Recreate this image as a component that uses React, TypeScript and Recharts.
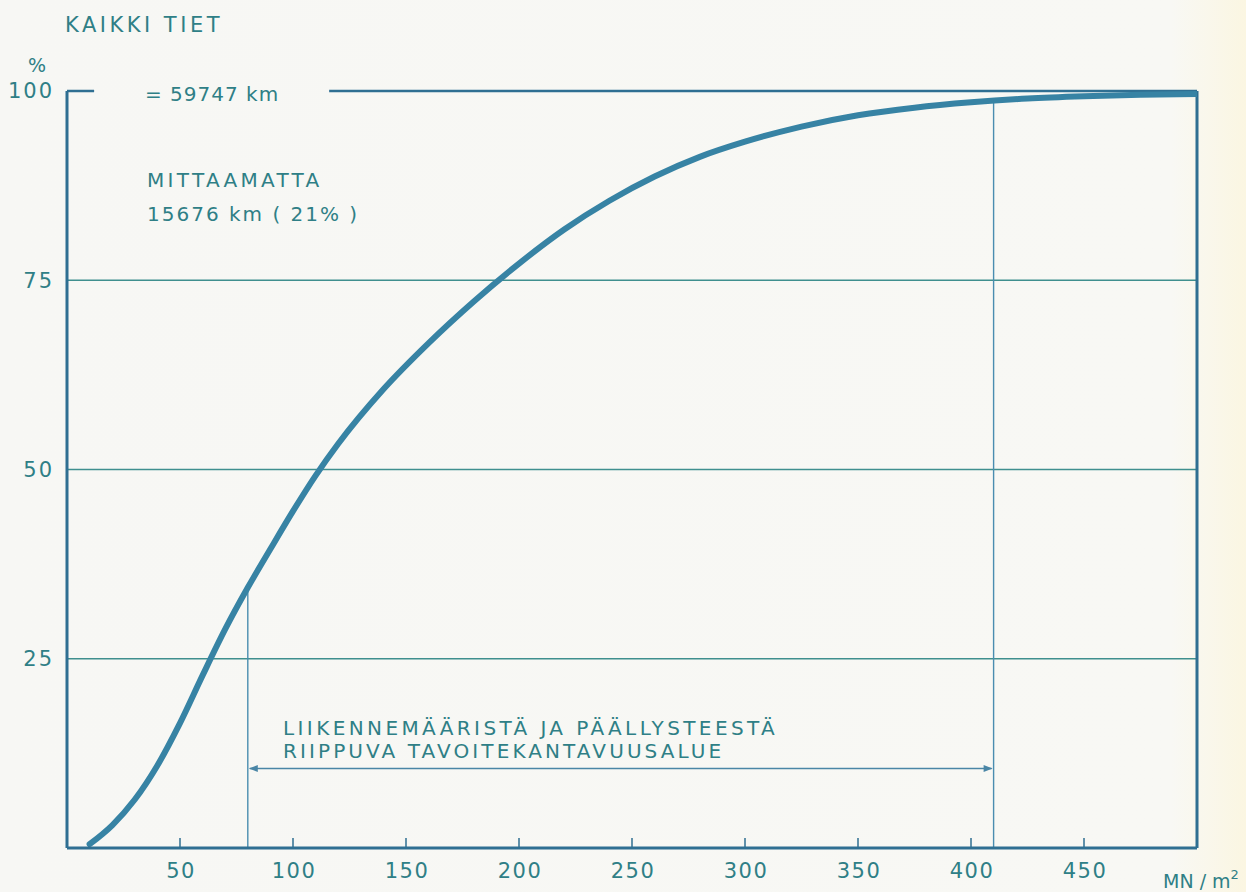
import React from "react";
import { ComposedChart, Line, XAxis, YAxis, ReferenceLine } from "recharts";

// kantavuus MN/m2 -> osuus teistä (%)
const strength = [10, 20, 30, 40, 50, 60, 70, 80, 90, 100, 110, 120, 140, 160, 180, 200, 220, 240, 260, 280, 300, 325, 350, 375, 400, 425, 450, 475, 500];
const share = [0.5, 3.0, 6.4, 10.9, 16.5, 22.8, 28.9, 34.4, 39.5, 44.5, 49.2, 53.4, 60.6, 66.7, 72.2, 77.2, 81.7, 85.5, 88.7, 91.3, 93.3, 95.3, 96.8, 97.8, 98.5, 99.0, 99.3, 99.5, 99.6];

const xTicks = [50, 100, 150, 200, 250, 300, 350, 400, 450];
const yTicks = [25, 50, 75, 100];
const gridLevels = [25, 50, 75];
const targetRange = [80, 410];
const arrowLevel = 10.5;
const topGap = [12, 116];

const data = strength.map((x, i) => ({ x, y: share[i] }));

const shareAt = (v: number) => {
  for (let i = 1; i < strength.length; i++) {
    if (v <= strength[i]) {
      const t = (v - strength[i - 1]) / (strength[i] - strength[i - 1]);
      return share[i - 1] + t * (share[i] - share[i - 1]);
    }
  }
  return share[share.length - 1];
};

const INK = "#2f6f92";
const GRID = "#3f8f8e";
const TEXT = "#2f7f86";
const FONT = "'DejaVu Sans', sans-serif";

const XTick = (props: any) => {
  const { x, y, payload } = props;
  return (
    <g>
      <line x1={x} x2={x} y1={y} y2={y - 10} stroke={INK} strokeWidth={1.5} />
      <text x={x + 1} y={y + 30} textAnchor="middle" fill={TEXT} fontSize={21} fontFamily={FONT} letterSpacing={1.5}>
        {payload.value}
      </text>
    </g>
  );
};

const ArrowShape = (props: any) => {
  const { x1, y1, x2, y2 } = props;
  const a = Math.min(x1, x2);
  const b = Math.max(x1, x2);
  return (
    <g>
      <line x1={a + 2} x2={b - 2} y1={y1} y2={y2} stroke="#4a86a6" strokeWidth={1.3} />
      <polygon points={`${a + 1},${y1} ${a + 10},${y1 - 3.5} ${a + 10},${y1 + 3.5}`} fill="#4a86a6" />
      <polygon points={`${b - 1},${y2} ${b - 10},${y2 - 3.5} ${b - 10},${y2 + 3.5}`} fill="#4a86a6" />
    </g>
  );
};

const txt = { fill: TEXT, fontFamily: FONT, fontSize: 20 } as const;

export default function App() {
  return (
    <div
      style={{
        position: "absolute",
        left: 0,
        top: 0,
        width: 1246,
        height: 892,
        background: "linear-gradient(to right, #f7f7f4 0%, #f8f8f4 94%, #fbf6e2 100%)",
      }}
    >
      <ComposedChart width={1246} height={892} data={data} margin={{ top: 91, right: 49, bottom: 14, left: 17 }}>
        <XAxis
          type="number"
          dataKey="x"
          domain={[0, 500]}
          ticks={xTicks}
          tick={<XTick />}
          tickLine={false}
          tickSize={0}
          tickMargin={0}
          height={30}
          axisLine={{ stroke: INK, strokeWidth: 3 }}
          allowDataOverflow
        />
        <YAxis
          type="number"
          domain={[0, 100]}
          ticks={yTicks}
          width={50}
          tickLine={false}
          tickSize={0}
          tickMargin={13}
          axisLine={{ stroke: INK, strokeWidth: 3 }}
          tick={{ fill: TEXT, fontSize: 21, fontFamily: FONT, letterSpacing: 2 }}
        />
        {gridLevels.map((v) => (
          <ReferenceLine key={v} y={v} stroke={GRID} strokeWidth={1.4} />
        ))}
        <ReferenceLine segment={[{ x: 0, y: 100 }, { x: topGap[0], y: 100 }]} stroke={INK} strokeWidth={2.5} />
        <ReferenceLine segment={[{ x: topGap[1], y: 100 }, { x: 500, y: 100 }]} stroke={INK} strokeWidth={2.5} />
        <ReferenceLine x={500} stroke={INK} strokeWidth={3} />
        {targetRange.map((v) => (
          <ReferenceLine key={v} segment={[{ x: v, y: 0 }, { x: v, y: shareAt(v) }]} stroke="#4a8db0" strokeWidth={1.4} />
        ))}
        <ReferenceLine
          segment={[{ x: targetRange[0], y: arrowLevel }, { x: targetRange[1], y: arrowLevel }]}
          shape={<ArrowShape />}
        />
        <Line
          type="monotone"
          dataKey="y"
          stroke="#3783a4"
          strokeWidth={6}
          dot={false}
          activeDot={false}
          strokeLinecap="round"
          isAnimationActive={false}
        />
      </ComposedChart>
      <svg width={1246} height={892} style={{ position: "absolute", left: 0, top: 0, pointerEvents: "none" }}>
        <text x={65} y={32} {...txt} fontSize={21} letterSpacing={3.5}>KAIKKI TIET</text>
        <text x={28} y={72} {...txt} fontSize={19}>%</text>
        <text x={145} y={101} {...txt} letterSpacing={1}>= 59747 km</text>
        <text x={147} y={187} {...txt} letterSpacing={3.3}>MITTAAMATTA</text>
        <text x={147} y={221} {...txt} letterSpacing={2}>15676 km ( 21% )</text>
        <text x={283} y={735} {...txt} letterSpacing={3.4}>LIIKENNEMÄÄRISTÄ JA PÄÄLLYSTEESTÄ</text>
        <text x={283} y={758} {...txt} letterSpacing={3.1}>RIIPPUVA TAVOITEKANTAVUUSALUE</text>
        <text x={1163} y={888} {...txt} fontSize={19}>
          MN / m<tspan dy={-9} fontSize={13}>2</tspan>
        </text>
      </svg>
    </div>
  );
}
